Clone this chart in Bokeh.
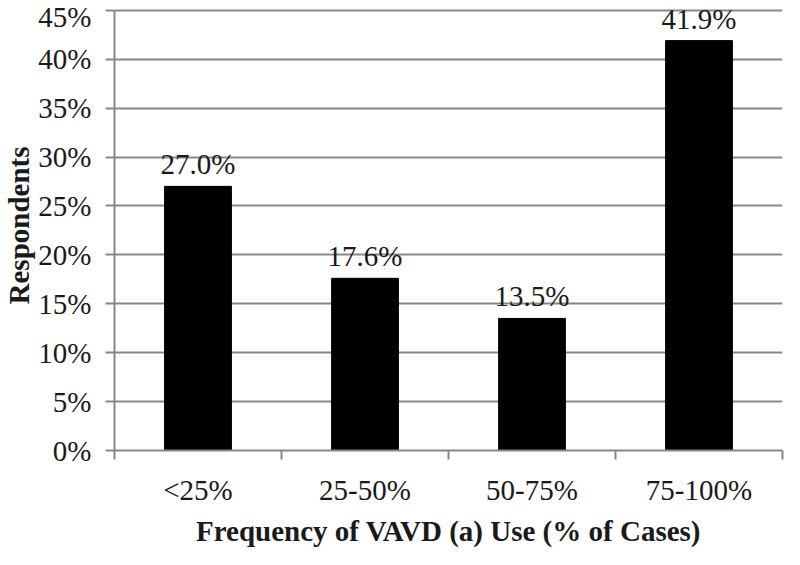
from bokeh.plotting import figure
from bokeh.models import ColumnDataSource, FixedTicker, Range1d
from bokeh.core.properties import value
from bokeh.embed import file_html
from bokeh.resources import INLINE

categories = ["<25%", "25-50%", "50-75%", "75-100%"]
values = [27.0, 17.6, 13.5, 41.9]
y_ticks = [0, 5, 10, 15, 20, 25, 30, 35, 40, 45]
y_tick_labels = ["0%", "5%", "10%", "15%", "20%", "25%", "30%", "35%", "40%", "45%"]
x_title = "Frequency of VAVD (a) Use (% of Cases)"
y_title = "Respondents"

FONT = "Liberation Serif"
GRAY = "#878787"
TXT = "#1a1a1a"

xs = [i + 0.5 for i in range(len(categories))]
src = ColumnDataSource(dict(x=xs, top=values, label=[f"{v:.1f}%" for v in values]))

p = figure(width=784, height=549, output_backend="svg", toolbar_location=None,
           x_range=Range1d(0, len(categories)), y_range=Range1d(0, 46),
           min_border_left=114, min_border_right=2, min_border_top=0, min_border_bottom=60)
p.outline_line_color = None
p.background_fill_color = "white"

p.vbar(x="x", top="top", width=0.4, source=src, fill_color="black", line_color="black")
p.text(x="x", y="top", text="label", source=src, text_align="center",
       text_baseline="alphabetic", y_offset=-22, text_font=value(FONT),
       text_font_size="29px", text_color=TXT)

# y axis
p.yaxis.ticker = FixedTicker(ticks=y_ticks)
p.yaxis.major_label_overrides = {t: l for t, l in zip(y_ticks, y_tick_labels)}
p.yaxis.bounds = (0, 45)
p.yaxis.axis_line_color = GRAY
p.yaxis.axis_line_width = 2
p.yaxis.major_tick_line_color = GRAY
p.yaxis.major_tick_line_width = 2
p.yaxis.major_tick_out = 9
p.yaxis.major_tick_in = 0
p.yaxis.minor_tick_line_color = None
p.yaxis.major_label_standoff = 14
p.yaxis.major_label_text_font = FONT
p.yaxis.major_label_text_font_size = "29px"
p.yaxis.major_label_text_color = TXT
p.yaxis.axis_label = y_title
p.yaxis.axis_label_text_font = FONT
p.yaxis.axis_label_text_font_style = "bold"
p.yaxis.axis_label_text_font_size = "29px"
p.yaxis.axis_label_text_color = TXT
p.yaxis.axis_label_standoff = 0

# x axis
p.xaxis.ticker = FixedTicker(ticks=xs, minor_ticks=list(range(len(categories) + 1)))
p.xaxis.major_label_overrides = {x: c for x, c in zip(xs, categories)}
p.xaxis.axis_line_color = GRAY
p.xaxis.axis_line_width = 2
p.xaxis.major_tick_line_color = None
p.xaxis.major_tick_out = 0
p.xaxis.major_tick_in = 0
p.xaxis.minor_tick_line_color = GRAY
p.xaxis.minor_tick_line_width = 2
p.xaxis.minor_tick_out = 9
p.xaxis.minor_tick_in = 0
p.xaxis.major_label_standoff = 14
p.xaxis.major_label_text_font = FONT
p.xaxis.major_label_text_font_size = "29px"
p.xaxis.major_label_text_color = TXT
p.xaxis.axis_label = x_title
p.xaxis.axis_label_text_font = FONT
p.xaxis.axis_label_text_font_style = "bold"
p.xaxis.axis_label_text_font_size = "29px"
p.xaxis.axis_label_text_color = TXT
p.xaxis.axis_label_standoff = 6

p.xgrid.grid_line_color = None
p.ygrid.grid_line_color = GRAY
p.ygrid.grid_line_width = 2
p.ygrid.bounds = (0, 45)

open("out.html", "w").write(file_html(p, INLINE))
